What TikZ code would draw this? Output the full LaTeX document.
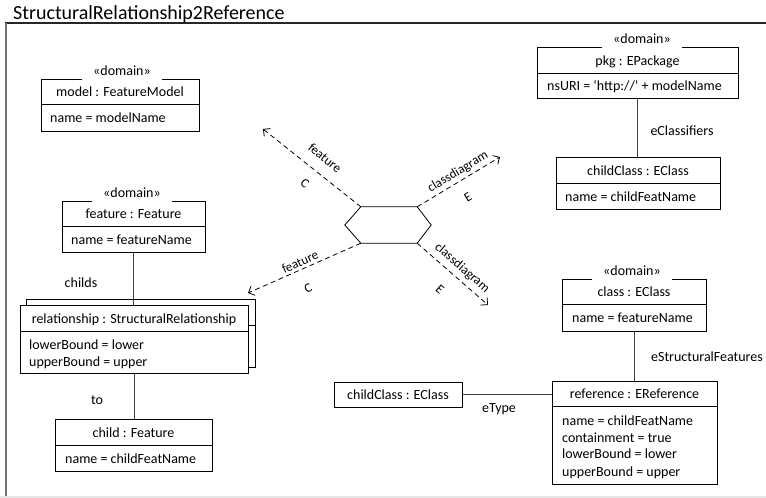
\documentclass[tikz,border=0pt]{standalone}
\usepackage{fontspec}
\setmainfont{Carlito}
\usetikzlibrary{arrows.meta}
\begin{document}
\begin{tikzpicture}[x=1pt,y=-1pt,
  hdr/.style={draw=black, line width=0.8pt, fill=white, inner sep=0pt,
    text height=10pt, text depth=0pt, font=\fontsize{14}{17}\selectfont},
  cmp/.style={draw=black, line width=0.8pt, fill=white, inner sep=0pt},
  attr/.style={anchor=base west, inner sep=0pt, font=\fontsize{14}{17}\selectfont},
  role/.style={anchor=base, inner sep=0pt, font=\fontsize{14}{17}\selectfont},
  stereo/.style={anchor=base, fill=white, inner xsep=11pt, inner ysep=5pt,
    text depth=0pt, font=\fontsize{14}{17}\selectfont},
  link/.style={draw=black!75, line width=0.8pt},
  trace/.style={draw=black, line width=0.8pt, dash pattern=on 5pt off 3.5pt,
    -{Straight Barb[length=5pt,width=10pt]}},
  tlbl/.style={inner sep=0pt, font=\fontsize{13}{15}\selectfont},
]
\useasboundingbox (0,0) rectangle (766,498);

% frame and title
\node[anchor=base west, inner sep=0pt, font=\fontsize{20}{24}\selectfont] (title) at (13,19.5) {StructuralRelationship2Reference};
\draw[line width=1.2pt, black!85] (5,23) -- (766,23);
\draw[line width=2pt, black!55] (6,23) -- (6,497);
\draw[line width=2pt, black!10] (0,497) -- (766,497);

% model : FeatureModel
\node[hdr, minimum width=158pt, minimum height=25pt] (modelH) at (120,91.5) {model : FeatureModel};
\node[cmp, minimum width=158pt, minimum height=27pt] (modelA) at (120,117.5) {};
\node[attr] (modelA1) at (50,122.5) {name = modelName};
\node[stereo] (modelS) at (122,75) {«domain»};

% feature : Feature
\node[hdr, minimum width=143pt, minimum height=25pt] (featH) at (133.5,213.5) {feature : Feature};
\node[cmp, minimum width=143pt, minimum height=26pt] (featA) at (133.5,239) {};
\node[attr] (featA1) at (71,244) {name = featureName};
\node[stereo] (featS) at (132,197) {«domain»};

% relationship : StructuralRelationship (multi-object)
\node[cmp, minimum width=229pt, minimum height=26pt] (relBH) at (140.5,312) {};
\node[cmp, minimum width=229pt, minimum height=42pt] (relBA) at (140.5,346) {};
\node[hdr, minimum width=228pt, minimum height=26pt] (relH) at (134,318) {relationship : StructuralRelationship};
\node[cmp, minimum width=228pt, minimum height=42pt] (relA) at (134,352) {};
\node[attr] (relA1) at (29,349.5) {lowerBound = lower};
\node[attr] (relA2) at (29,366.5) {upperBound = upper};

% child : Feature
\node[hdr, minimum width=157pt, minimum height=26pt] (childH) at (133.5,432) {child : Feature};
\node[cmp, minimum width=157pt, minimum height=26pt] (childA) at (133.5,458) {};
\node[attr] (childA1) at (65,463) {name = childFeatName};

% pkg : EPackage
\node[hdr, minimum width=201pt, minimum height=26pt] (pkgH) at (637.5,60) {pkg : EPackage};
\node[cmp, minimum width=201pt, minimum height=25pt] (pkgA) at (637.5,85.5) {};
\node[attr] (pkgA1) at (547,90.5) {nsURI = ‘http://’ + modelName};
\node[stereo] (pkgS) at (642,43) {«domain»};

% childClass : EClass (classifier of the package)
\node[hdr, minimum width=164pt, minimum height=26pt] (ccH) at (638,170) {childClass : EClass};
\node[cmp, minimum width=164pt, minimum height=26pt] (ccA) at (638,196) {};
\node[attr] (ccA1) at (565,201) {name = childFeatName};

% class : EClass
\node[hdr, minimum width=144pt, minimum height=25pt] (clsH) at (634,291.5) {class : EClass};
\node[cmp, minimum width=144pt, minimum height=27pt] (clsA) at (634,317.5) {};
\node[attr] (clsA1) at (572,322.5) {name = featureName};
\node[stereo] (clsS) at (632,275) {«domain»};

% reference : EReference
\node[hdr, minimum width=165pt, minimum height=25pt] (refH) at (634.5,393.5) {reference : EReference};
\node[cmp, minimum width=165pt, minimum height=78pt] (refA) at (634.5,445) {};
\node[attr] (refA1) at (562,425.5) {name = childFeatName};
\node[attr] (refA2) at (562,442.5) {containment = true};
\node[attr] (refA3) at (562,458.5) {lowerBound = lower};
\node[attr] (refA4) at (562,476.5) {upperBound = upper};

% childClass : EClass (type of the reference)
\node[hdr, minimum width=128pt, minimum height=25pt] (typeH) at (398,394.5) {childClass : EClass};

% links between objects
\draw[link] (featA.south) -- (featA.south |- relH.north);
\draw[link] (relA.south) -- (relA.south |- childH.north);
\draw[link] (pkgA.south) -- (pkgA.south |- ccH.north);
\draw[link] (clsA.south) -- (clsA.south |- refH.north);
\draw[link] (typeH.east) -- (typeH.east -| refH.west);
\node[role] (childsL) at (81,287.5) {childs};
\node[role] (toL) at (97,404.5) {to};
\node[role] (eclsL) at (682,135.5) {eClassifiers};
\node[role] (esfL) at (707,361.5) {eStructuralFeatures};
\node[role] (etypeL) at (499,412) {eType};

% transformation hexagon and its domain traces
\node[inner sep=0pt, minimum width=56pt, minimum height=36pt] (hex) at (389,225) {};
\draw[line width=0.8pt] (hex.north west) -- (hex.north east) -- ([xshift=14pt]hex.east)
  -- (hex.south east) -- (hex.south west) -- ([xshift=-16pt]hex.west) -- cycle;
\coordinate (tipFU) at (263,129);
\coordinate (tipCU) at (500,157);
\coordinate (tipFD) at (248,293);
\coordinate (tipCD) at (488,305);
\draw[trace] (hex.north west) -- (tipFU);
\draw[trace] (hex.north east) -- (tipCU);
\draw[trace] (hex.south west) -- (tipFD);
\draw[trace] (hex.south east) -- (tipCD);
\node[tlbl, rotate=-38.5] (fuName) at (325,158) {feature};
\node[tlbl, rotate=-38.5] (fuKind) at (305,183) {C};
\node[tlbl, rotate=31] (cuName) at (458,172) {classdiagram};
\node[tlbl, rotate=31] (cuKind) at (468,197) {E};
\node[tlbl, rotate=23.9] (fdName) at (300,262) {feature};
\node[tlbl, rotate=23.9] (fdKind) at (308,288) {C};
\node[tlbl, rotate=-41] (cdName) at (462,268) {classdiagram};
\node[tlbl, rotate=-41] (cdKind) at (440,289) {E};
\end{tikzpicture}
\end{document}
